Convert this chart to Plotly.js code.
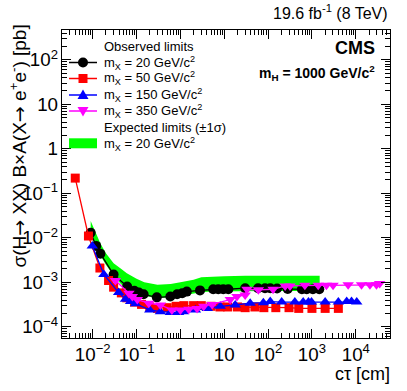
<!DOCTYPE html>
<html>
<head>
<meta charset="utf-8">
<script src="https://cdn.plot.ly/plotly-3.0.1.min.js"></script>
<style>
  body { margin: 0; background: #fff; }
  #plot { width: 407px; height: 391px; }
</style>
</head>
<body>
<div id="plot"></div>
<script>
// observed limits, mX = 20 GeV/c2
let ctau20 = [0.009, 0.012, 0.015, 0.03, 0.061, 0.089, 0.113, 0.145, 0.29, 0.59, 0.84, 1.1, 1.4, 2.8, 5.6, 7.3, 9.5, 12.4, 30, 59, 85, 112, 160, 280, 590, 760, 1050, 1470];
let obs20 = [0.013, 0.0066, 0.0044, 0.0015, 8.1e-4, 6.5e-4, 5.9e-4, 5.4e-4, 4.6e-4, 4.8e-4, 5.4e-4, 5.7e-4, 6.2e-4, 6.6e-4, 7e-4, 7e-4, 7e-4, 7e-4, 7.4e-4, 7.4e-4, 7.4e-4, 7.4e-4, 7.3e-4, 7.1e-4, 7e-4, 7e-4, 7e-4, 7e-4];

// observed limits, mX = 50 GeV/c2
let ctau50 = [0.004, 0.008, 0.0146, 0.023, 0.03, 0.045, 0.06, 0.09, 0.13, 0.2, 0.3, 0.5, 0.8, 1.2, 2, 3, 5, 8, 12, 20, 30, 50, 80, 150, 300, 500, 1000, 2000, 4000];
let obs50 = [0.22, 0.011, 0.0021, 0.0011, 7.8e-4, 5.8e-4, 4.5e-4, 3.6e-4, 3.2e-4, 2.8e-4, 2.6e-4, 2.7e-4, 2.9e-4, 3e-4, 3e-4, 3e-4, 2.9e-4, 2.8e-4, 2.8e-4, 2.8e-4, 2.7e-4, 2.8e-4, 2.7e-4, 2.7e-4, 2.7e-4, 2.6e-4, 2.6e-4, 2.6e-4, 2.6e-4];

// observed limits, mX = 150 GeV/c2
let ctau150 = [0.0098, 0.018, 0.039, 0.056, 0.073, 0.095, 0.2, 0.35, 0.59, 0.91, 1.19, 2.2, 4.1, 8.1, 17.8, 39, 78, 112, 204, 407, 631, 832, 977, 2000, 4000, 6200, 8000, 10500];
let obs150 = [0.0066, 0.0015, 5.9e-4, 4.2e-4, 3.7e-4, 3.3e-4, 2.4e-4, 2.2e-4, 2.1e-4, 2.1e-4, 2.2e-4, 2.4e-4, 2.6e-4, 2.9e-4, 3.1e-4, 3.4e-4, 3.5e-4, 3.7e-4, 3.6e-4, 3.6e-4, 3.6e-4, 3.6e-4, 3.6e-4, 3.6e-4, 3.6e-4, 3.7e-4, 3.7e-4, 3.6e-4];

// observed limits, mX = 350 GeV/c2
let ctau350 = [0.033, 0.067, 0.08, 0.104, 0.19, 0.35, 0.64, 1.0, 1.55, 2.4, 3.4, 5.3, 13.7, 19.5, 30, 33, 60, 130, 245, 316, 690, 1390, 2140, 3030, 6700, 13500, 21000, 29600, 35000];
let obs350 = [0.0011, 5.7e-4, 4.8e-4, 4.1e-4, 3.4e-4, 3.1e-4, 2.4e-4, 2.4e-4, 2.5e-4, 2.6e-4, 2.9e-4, 3.2e-4, 4.1e-4, 4.8e-4, 5.2e-4, 7e-4, 6.8e-4, 7e-4, 8.3e-4, 8.3e-4, 8.6e-4, 8.6e-4, 8.6e-4, 8.6e-4, 8.8e-4, 8.8e-4, 8.8e-4, 8.8e-4, 9.4e-4];

// expected limits +-1 sigma band, mX = 20 GeV/c2
let ctauExp = [0.009, 0.012, 0.015, 0.02, 0.03, 0.045, 0.06, 0.1, 0.15, 0.3, 0.6, 1, 2, 3, 5, 10, 30, 100, 300, 1000, 1500];
let expUp = [0.024, 0.013, 0.0075, 0.0045, 0.0027, 0.002, 0.0016, 0.0012, 0.001, 8.8e-4, 9.2e-4, 1.0e-3, 1.15e-3, 1.3e-3, 1.35e-3, 1.38e-3, 1.4e-3, 1.4e-3, 1.4e-3, 1.4e-3, 1.4e-3];
let expDown = [0.011, 0.006, 0.004, 0.0025, 0.0014, 9e-4, 7.5e-4, 5.8e-4, 5e-4, 4.4e-4, 4.6e-4, 5e-4, 5.6e-4, 6e-4, 6.2e-4, 6.3e-4, 6.4e-4, 6.4e-4, 6.4e-4, 6.4e-4, 6.4e-4];

// legend labels
let obsHeader = "Observed limits";
let expHeader = "Expected limits (\u00b11\u03c3)";
let seriesNames = ["m<sub>X</sub> = 20 GeV/c<sup>2</sup>", "m<sub>X</sub> = 50 GeV/c<sup>2</sup>",
                   "m<sub>X</sub> = 150 GeV/c<sup>2</sup>", "m<sub>X</sub> = 350 GeV/c<sup>2</sup>"];
let seriesColors = ["#000000", "#ff0000", "#0000ff", "#ff00ff"];
let seriesSymbols = ["circle", "square", "triangle-up", "triangle-down"];
let bandName = "m<sub>X</sub> = 20 GeV/c<sup>2</sup>";

let font = "Liberation Sans, Arial, sans-serif";
let arrow = "<span style='font-family:DejaVu Sans'>\u2192</span>";

// frame of the plot area in pixels, used to place the hand-made legend
let L = 62, R = 390, T = 30, B = 338;
function fx(p) { return (p - L) / (R - L); }
function fy(p) { return (B - p) / (B - T); }

// expected band first so it sits behind the markers
let bandLow = {
    x: ctauExp, y: expDown,
    mode: "lines", line: {width: 0, color: "#00ff00"},
    showlegend: false, hoverinfo: "skip"
};
let bandUp = {
    x: ctauExp, y: expUp,
    mode: "lines", line: {width: 0, color: "#00ff00"},
    fill: "tonexty", fillcolor: "#00ff00",
    showlegend: false
};

let obsX = [ctau20, ctau50, ctau150, ctau350];
let obsY = [obs20, obs50, obs150, obs350];
let markerSizes = [10, 9, 10, 10];

let data = [bandLow, bandUp];
for (let i = 0; i < 4; i++) {
    data.push({
        x: obsX[i], y: obsY[i],
        mode: "lines+markers",
        line: {color: seriesColors[i], width: 1.3},
        marker: {color: seriesColors[i], symbol: seriesSymbols[i], size: markerSizes[i]},
        name: seriesNames[i],
        showlegend: false
    });
}

// legend drawn by hand so the rows are as tight as in the original
let shapes = [];
let annotations = [];
let textX = fx(102);
let rowY = [62.5, 78.5, 95, 111];

function legendText(text, y) {
    annotations.push({text: text, xref: "paper", yref: "paper", x: textX, y: fy(y),
        xanchor: "left", yanchor: "middle", showarrow: false, font: {family: font, size: 13}});
}

legendText(obsHeader, 46.5);
for (let i = 0; i < 4; i++) {
    let y = rowY[i], c = seriesColors[i], r = 5;
    shapes.push({type: "line", xref: "paper", yref: "paper", x0: fx(69), x1: fx(97), y0: fy(y), y1: fy(y),
        line: {color: c, width: 1.5}});
    if (seriesSymbols[i] === "circle") {
        shapes.push({type: "circle", xref: "paper", yref: "paper", x0: fx(83 - r), x1: fx(83 + r),
            y0: fy(y + r), y1: fy(y - r), fillcolor: c, line: {color: c, width: 0}});
    } else if (seriesSymbols[i] === "square") {
        shapes.push({type: "rect", xref: "paper", yref: "paper", x0: fx(83 - 4.5), x1: fx(83 + 4.5),
            y0: fy(y + 4.5), y1: fy(y - 4.5), fillcolor: c, line: {color: c, width: 0}});
    } else {
        let s = seriesSymbols[i] === "triangle-up" ? 1 : -1;
        let path = "M" + fx(83 - 5.5) + "," + fy(y + 4 * s) + " L" + fx(83 + 5.5) + "," + fy(y + 4 * s) +
                   " L" + fx(83) + "," + fy(y - 5.5 * s) + " Z";
        shapes.push({type: "path", xref: "paper", yref: "paper", path: path, fillcolor: c, line: {color: c, width: 0}});
    }
    legendText(seriesNames[i], y);
}
legendText(expHeader, 127);
shapes.push({type: "rect", xref: "paper", yref: "paper", x0: fx(69), x1: fx(97), y0: fy(148.3), y1: fy(138.3),
    fillcolor: "#00ff00", line: {width: 0}});
legendText(bandName, 143.5);

annotations.push(
    {text: "19.6 fb<sup>-1</sup> (8 TeV)", xref: "paper", yref: "paper", x: 1, y: 1.02,
     xanchor: "right", yanchor: "bottom", showarrow: false, font: {family: font, size: 16}},
    {text: "<b>CMS</b>", xref: "paper", yref: "paper", x: 0.96, y: 0.94,
     xanchor: "right", yanchor: "middle", showarrow: false, font: {family: font, size: 18}},
    {text: "<b>m<sub>H</sub> = 1000 GeV/c<sup>2</sup></b>", xref: "paper", yref: "paper", x: 0.96, y: 0.86,
     xanchor: "right", yanchor: "middle", showarrow: false, font: {family: font, size: 14}},
    {text: "c\u03c4 [cm]", xref: "paper", yref: "paper", x: 1.005, y: -0.118,
     xanchor: "right", yanchor: "middle", showarrow: false, font: {family: font, size: 18}},
    {text: "\u03c3(H" + arrow + " XX) B\u00d7A(X" + arrow + " e<sup>+</sup>e<sup>-</sup>) [pb]", xref: "paper", yref: "paper",
     x: -0.135, y: 1.025, xanchor: "center", yanchor: "top", textangle: -90, showarrow: false,
     font: {family: font, size: 19}}
);

let axisStyle = {
    type: "log",
    dtick: 1,
    exponentformat: "power",
    ticks: "inside",
    ticklen: 9,
    tickcolor: "#000",
    mirror: "allticks",
    showline: true,
    linecolor: "#000",
    linewidth: 1,
    showgrid: false,
    zeroline: false,
    minor: {ticks: "inside", ticklen: 5, tickcolor: "#000", dtick: "D1", showgrid: false},
    tickfont: {family: font, size: 15, color: "#000"}
};

let layout = {
    width: 407, height: 391,
    margin: {l: L, r: 407 - R, t: T, b: 391 - B},
    paper_bgcolor: "#fff", plot_bgcolor: "#fff",
    font: {family: font, color: "#000"},
    xaxis: Object.assign({}, axisStyle, {range: [-2.7, 4.78]}),
    yaxis: Object.assign({}, axisStyle, {range: [-4.25, 2.67]}),
    showlegend: false,
    shapes: shapes,
    annotations: annotations
};

Plotly.newPlot("plot", data, layout, {displayModeBar: false});
</script>
</body>
</html>
